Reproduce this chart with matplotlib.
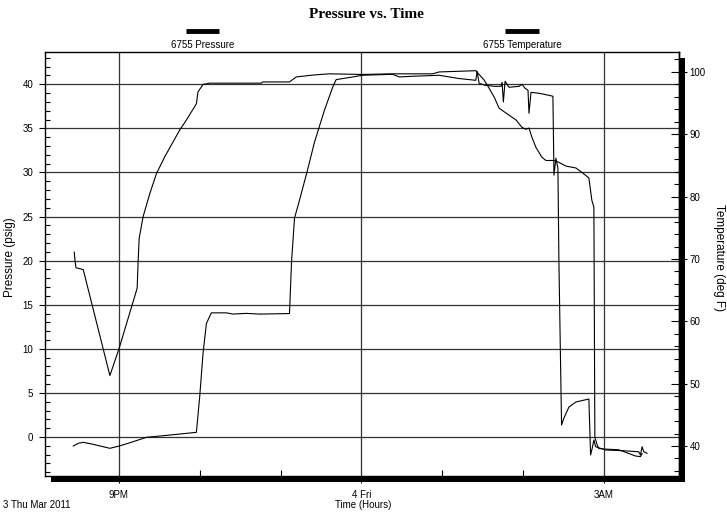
import numpy as np
import matplotlib
matplotlib.use('agg')
import matplotlib.pyplot as plt
from matplotlib.patches import Rectangle
from matplotlib.lines import Line2D

plt.rcParams['font.family'] = ['Liberation Sans', 'DejaVu Sans']

# time in hours after midnight, 3 Mar 2011
pres_hours = [20.436, 20.498, 20.559, 20.683, 20.889, 21.004, 21.136, 21.342, 21.506, 21.959,
              22.000, 22.041, 22.083, 22.144, 22.330, 22.411, 22.577, 22.741, 23.111, 23.136,
              23.173, 23.235, 23.333, 23.420, 23.543, 23.646, 23.688, 23.893, 24.009, 24.386,
              24.469, 24.633, 24.963, 25.210, 25.416, 25.432, 25.457, 25.531, 25.642, 25.728,
              25.741, 25.757, 25.778, 25.827, 25.951, 25.988, 26.025, 26.062, 26.074, 26.099,
              26.198, 26.321, 26.370, 26.383, 26.407, 26.432, 26.444, 26.477, 26.506, 26.568,
              26.654, 26.815, 26.836, 26.856, 26.877, 26.898, 27.021, 27.226, 27.432, 27.453,
              27.473, 27.494, 27.535]
pres_psig = [-1.02, -0.71, -0.60, -0.83, -1.28, -1.02, -0.65, -0.03, 0.11, 0.53,
             4.57, 9.48, 12.88, 14.08, 14.08, 13.94, 14.02, 13.94, 14.0, 19.83,
             24.82, 26.86, 30.25, 33.43, 37.05, 39.69, 40.53, 40.83, 41.02, 41.13,
             40.83, 40.91, 41.02, 40.65, 40.45, 41.47, 40.11, 39.89, 39.77, 39.77,
             40.23, 37.99, 40.34, 39.66, 39.77, 40.0, 39.55, 39.32, 36.71, 39.09,
             38.98, 38.75, 38.64, 29.69, 31.61, 30.48, 20.06, 1.36, 2.15, 3.40,
             3.97, 4.31, -2.04, -1.28, -0.34, -1.10, -1.47, -1.55, -1.67, -2.04,
             -1.10, -1.67, -1.85]

temp_hours = [20.448, 20.457, 20.469, 20.559, 20.889, 21.004, 21.226, 21.238, 21.251, 21.300,
              21.383, 21.465, 21.568, 21.753, 21.836, 21.959, 21.979, 22.041, 22.123, 22.762,
              22.781, 23.111, 23.194, 23.399, 23.605, 24.009, 24.386, 24.880, 24.963, 25.416,
              25.457, 25.519, 25.580, 25.642, 25.704, 25.790, 25.914, 25.988, 26.037, 26.074,
              26.111, 26.160, 26.235, 26.284, 26.383, 26.444, 26.531, 26.654, 26.728, 26.815,
              26.852, 26.877, 26.889, 26.917, 26.938, 27.021, 27.185, 27.391, 27.453, 27.473]
temp_degf = [71.1, 69.8, 68.6, 68.3, 51.3, 55.7, 65.3, 69.5, 73.3, 76.8,
             80.5, 83.7, 86.4, 90.7, 92.3, 94.9, 96.8, 98.0, 98.2, 98.2,
             98.4, 98.4, 99.2, 99.5, 99.7, 99.6, 99.7, 99.7, 100.0, 100.2,
             99.6, 98.7, 97.4, 96.0, 94.2, 93.4, 92.3, 91.1, 90.8, 91.0,
             89.5, 87.9, 86.3, 85.8, 85.8, 85.5, 84.9, 84.6, 83.9, 83.0,
             79.4, 78.3, 41.4, 40.2, 39.6, 39.5, 39.4, 38.4, 38.3, 38.8]

x_major = [21, 24, 27]
x_labels = ['9PM', '4 Fri', '3AM']
x_minor = [22, 23, 25, 26]

W, H = 727, 512
fig = plt.figure(figsize=(W / 100, H / 100), dpi=100)

# axes box in pixels: left 45, top 52, right 679, bottom 476
L, T, R, B = 45, 52, 679, 476
ax = fig.add_axes([L / W, 1 - B / H, (R - L) / W, (B - T) / H])
ax.set_zorder(1)
ax.patch.set_facecolor('white')

# drop shadow behind the plot box
fig.add_artist(Rectangle(((L + 6) / W, 1 - (B + 6) / H), (R - L) / W, (B - T) / H,
                         transform=fig.transFigure, facecolor='black', edgecolor='none', zorder=0))

ax.plot(pres_hours, pres_psig, color='black', lw=0.8, zorder=3)
ax.set_xlim(20.086, 27.93)
ax.set_ylim(-4.42, 43.66)
ax.set_yticks(range(0, 41, 5))
ax.set_yticks(np.arange(-4, 44), minor=True)
ax.set_xticks(x_major)
ax.set_xticklabels(x_labels)
ax.set_xticks(x_minor, minor=True)
ax.grid(True, which='major', color='#333333', lw=0.9, zorder=1)
ax.set_axisbelow(True)

ax.tick_params(axis='y', which='major', direction='out', length=4.5, width=0.8, labelsize=7, pad=4)
ax.tick_params(axis='y', which='minor', direction='in', length=3.6, width=0.8)
ax.tick_params(axis='x', which='major', direction='out', length=5, width=0.8, labelsize=7, pad=5)
ax.tick_params(axis='x', which='minor', direction='in', length=4.3, width=0.8)
for s in ax.spines.values():
    s.set_linewidth(1.0)

ax2 = ax.twinx()
ax2.plot(temp_hours, temp_degf, color='black', lw=0.8)
ax2.set_ylim(35.19, 103.2)
ax2.set_yticks(range(40, 101, 10))
ax2.set_yticks(np.arange(36, 104, 2), minor=True)
ax2.tick_params(which='major', direction='inout', length=11.5, width=0.8, labelsize=7, pad=2)
ax2.tick_params(which='minor', direction='in', length=3.6, width=0.8)
for k in ['left', 'top', 'bottom']:
    ax2.spines[k].set_visible(False)
ax2.spines['right'].set_linewidth(1.0)

# title and legend
fig.text(366 / W, 1 - 15 / H, 'Pressure vs. Time', ha='center', va='center',
         fontsize=11, fontweight='bold', family=['Liberation Serif', 'DejaVu Serif'])
fig.add_artist(Line2D([186 / W, 219 / W], [1 - 31 / H, 1 - 31 / H], color='black', lw=3.5,
                      transform=fig.transFigure, solid_capstyle='butt'))
fig.add_artist(Line2D([505 / W, 539 / W], [1 - 31 / H, 1 - 31 / H], color='black', lw=3.5,
                      transform=fig.transFigure, solid_capstyle='butt'))
fig.text(203 / W, 1 - 45 / H, '6755 Pressure', ha='center', va='center', fontsize=7)
fig.text(522 / W, 1 - 45 / H, '6755 Temperature', ha='center', va='center', fontsize=7)

# axis labels
fig.text(10 / W, 1 - 257 / H, 'Pressure (psig)', rotation=90, ha='center', va='center', fontsize=8.5)
fig.text(719 / W, 1 - 258 / H, 'Temperature (deg F)', rotation=270, ha='center', va='center', fontsize=8.5)
fig.text(363 / W, 1 - 505 / H, 'Time (Hours)', ha='center', va='center', fontsize=7)
fig.text(3 / W, 1 - 505 / H, '3 Thu Mar 2011', ha='left', va='center', fontsize=7)

fig.savefig('out.png', dpi=100)
